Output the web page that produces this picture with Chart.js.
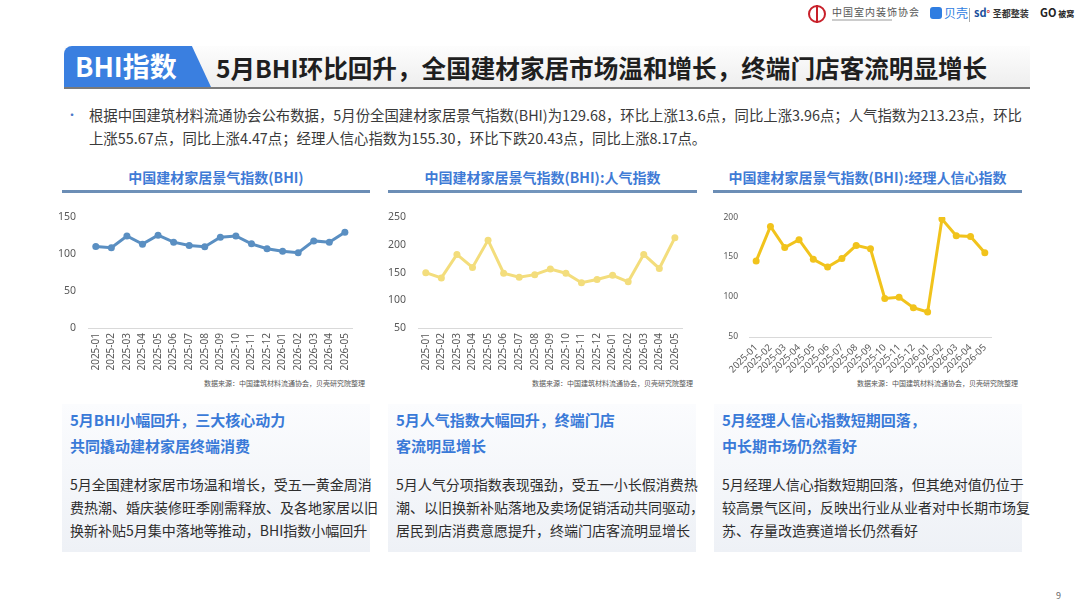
<!DOCTYPE html>
<html>
<head>
<meta charset="utf-8">
<script src="https://cdn.jsdelivr.net/npm/chart.js@4.4.1/dist/chart.umd.min.js"></script>
<style>
  body { margin: 0; width: 1080px; height: 608px; background: #fff; position: relative; overflow: hidden;
         font-family: "Noto Sans CJK SC", "Noto Sans", sans-serif; color: #333; }
  .abs { position: absolute; }
  .titlebar { left: 64px; top: 46px; width: 966px; height: 41px; border-bottom: 2px solid #7a7a7a;
              background: linear-gradient(to bottom, #fdfdfd, #eeeeee); }
  .tab { left: 64px; top: 46px; width: 147px; height: 41px; background: #3a7fe0;
         clip-path: polygon(0 0, 87% 0, 100% 100%, 0 100%); border-top-left-radius: 8px; }
  .tab span { position: absolute; left: 11px; top: 1px; font-size: 27px; font-weight: 700; color: #fff; line-height: 38px; }
  .headline { left: 216px; top: 46px; font-size: 24.6px; font-weight: 700; color: #1f1f1f; line-height: 42px; white-space: nowrap; }
  .intro { left: 89px; top: 104px; font-size: 14.38px; line-height: 22.5px; color: #3a3a3a; white-space: nowrap; }
  .dot { left: 66px; top: 104px; font-size: 12px; line-height: 22px; color: #4a78c8; }
  .ptitle { top: 165px; height: 24px; font-size: 14px; font-weight: 700; color: #3f7bd6; text-align: center; line-height: 24px; white-space: nowrap; }
  .pline { top: 190px; height: 3px; background: linear-gradient(to right, #6b8db5, #7396bd, #6b8db5); }
  .src { top: 378px; font-size: 7px; color: #555; text-align: right; line-height: 10px; white-space: nowrap; }
  .box { top: 404px; height: 148px; background: linear-gradient(to bottom, #fbfcfe, #eef1f6); }
  .box h4 { margin: 0; position: absolute; left: 8px; top: 3px; font-size: 15px; font-weight: 700; color: #3a7ad8; line-height: 25.5px; white-space: nowrap; }
  .box p { margin: 0; position: absolute; left: 8px; top: 69px; font-size: 14px; color: #2e2e2e; line-height: 23.2px; white-space: nowrap; }
  .logo { top: 4px; height: 22px; font-size: 9px; color: #444; white-space: nowrap; line-height: 22px; }
</style>
</head>
<body>

<!-- logos top right -->
<div class="abs" style="left:808px;top:5px;width:18px;height:18px;border-radius:50%;border:2px solid #c8202a;box-sizing:border-box;"></div>
<div class="abs" style="left:816px;top:5px;width:2px;height:18px;background:#c8202a;"></div>
<div class="abs logo" style="left:832px;font-size:10px;color:#555;letter-spacing:1px;top:1px;">中国室内装饰协会</div>
<div class="abs" style="left:832px;top:19px;width:60px;height:2px;background:#ccc;"></div>
<div class="abs" style="left:930px;top:7px;width:12px;height:12px;border-radius:3px;background:#2f7de1;"></div>
<div class="abs logo" style="left:944px;font-size:12px;color:#2f7de1;top:2px;">贝壳</div>
<div class="abs" style="left:969px;top:8px;width:1px;height:14px;background:#aaa;"></div>
<div class="abs logo" style="left:974px;font-size:11px;color:#1b4f9c;top:1px;font-weight:700;">sd<span style="color:#c33;font-size:9px;">°</span> <span style="font-size:9px;color:#333;">圣都整装</span></div>
<div class="abs logo" style="left:1040px;font-size:11px;color:#222;top:1px;font-weight:700;">GO<span style="font-size:8px;"> 被窝</span></div>

<!-- title bar -->
<div class="abs titlebar"></div>
<div class="abs tab"><span>BHI指数</span></div>
<div class="abs headline">5月BHI环比回升，全国建材家居市场温和增长，终端门店客流明显增长</div>

<!-- intro -->
<div class="abs dot">•</div>
<div class="abs intro">根据中国建筑材料流通协会公布数据，5月份全国建材家居景气指数(BHI)为129.68，环比上涨13.6点，同比上涨3.96点；人气指数为213.23点，环比<br>上涨55.67点，同比上涨4.47点；经理人信心指数为155.30，环比下跌20.43点，同比上涨8.17点。</div>

<!-- panel titles -->
<div class="abs ptitle" style="left:62px;width:308px;">中国建材家居景气指数(BHI)</div>
<div class="abs pline" style="left:62px;width:308px;"></div>
<div class="abs ptitle" style="left:388px;width:309px;">中国建材家居景气指数(BHI):人气指数</div>
<div class="abs pline" style="left:388px;width:309px;"></div>
<div class="abs ptitle" style="left:713px;width:309px;">中国建材家居景气指数(BHI):经理人信心指数</div>
<div class="abs pline" style="left:713px;width:309px;"></div>

<!-- charts -->
<div class="abs" style="left:58px;top:199px;width:304px;height:179px;"><canvas id="c1"></canvas></div>
<div class="abs" style="left:388px;top:199px;width:304px;height:179px;"><canvas id="c2"></canvas></div>
<div class="abs" style="left:718px;top:201px;width:280px;height:176px;"><canvas id="c3"></canvas></div>

<div class="abs src" style="left:150px;width:215px;">数据来源：中国建筑材料流通协会，贝壳研究院整理</div>
<div class="abs src" style="left:478px;width:215px;">数据来源：中国建筑材料流通协会，贝壳研究院整理</div>
<div class="abs src" style="left:803px;width:215px;">数据来源：中国建筑材料流通协会，贝壳研究院整理</div>

<!-- text boxes -->
<div class="abs box" style="left:62px;width:308px;">
  <h4>5月BHI小幅回升，三大核心动力<br>共同撬动建材家居终端消费</h4>
  <p>5月全国建材家居市场温和增长，受五一黄金周消<br>费热潮、婚庆装修旺季刚需释放、及各地家居以旧<br>换新补贴5月集中落地等推动，BHI指数小幅回升</p>
</div>
<div class="abs box" style="left:388px;width:308px;">
  <h4>5月人气指数大幅回升，终端门店<br>客流明显增长</h4>
  <p>5月人气分项指数表现强劲，受五一小长假消费热<br>潮、以旧换新补贴落地及卖场促销活动共同驱动，<br>居民到店消费意愿提升，终端门店客流明显增长</p>
</div>
<div class="abs box" style="left:714px;width:308px;">
  <h4>5月经理人信心指数短期回落，<br>中长期市场仍然看好</h4>
  <p>5月经理人信心指数短期回落，但其绝对值仍位于<br>较高景气区间，反映出行业从业者对中长期市场复<br>苏、存量改造赛道增长仍然看好</p>
</div>

<div class="abs" style="left:1056px;top:589px;font-size:9px;color:#666;">9</div>

<script>
const months = ['2025-01', '2025-02', '2025-03', '2025-04', '2025-05', '2025-06', '2025-07', '2025-08', '2025-09',
                '2025-10', '2025-11', '2025-12', '2026-01', '2026-02', '2026-03', '2026-04', '2026-05'];

// 全国建材家居景气指数(BHI)
const bhiValues = [110.5, 108.7, 124.7, 113.6, 125.72, 116.3, 111.9, 110.0, 123.0, 124.7, 114.0, 107.4, 103.9, 102.0, 118.0, 116.08, 129.68];
// 人气指数
const popularityValues = [150.0, 140.5, 183.0, 159.5, 208.76, 149.0, 141.7, 146.4, 156.5, 149.0, 131.7, 137.6, 145.3, 133.4, 183.0, 157.56, 213.23];
// 经理人信心指数
const confidenceValues = [145.0, 188.3, 162.0, 171.7, 147.13, 137.5, 148.3, 164.6, 160.4, 98.3, 99.6, 86.7, 81.3, 197.5, 176.7, 175.73, 155.30];

const bhiTicks = [0, 50, 100, 150];
const popularityTicks = [50, 100, 150, 200, 250];
const confidenceTicks = [50, 100, 150, 200];

function makeChart(id, values, color, ticks, cfg) {
  return new Chart(document.getElementById(id), {
    type: 'line',
    data: {
      labels: months,
      datasets: [{
        data: values,
        borderColor: color,
        backgroundColor: color,
        borderWidth: 3,
        pointRadius: 3.5,
        pointBorderWidth: 0,
        pointBackgroundColor: color,
        tension: 0,
      }],
    },
    options: {
      responsive: true,
      maintainAspectRatio: false,
      animation: false,
      layout: { padding: { top: cfg.top, right: 0, left: 0, bottom: 0 } },
      plugins: { legend: { display: false }, tooltip: { enabled: false } },
      scales: {
        x: {
          offset: true,
          grid: { display: false, drawTicks: false },
          border: { display: true, color: '#d9d9d9', width: 1 },
          ticks: {
            autoSkip: false,
            minRotation: cfg.rot, maxRotation: cfg.rot,
            padding: cfg.xPad,
            color: '#595959',
            font: { size: cfg.xFont, family: 'Noto Sans, sans-serif' },
          },
          afterFit: s => { s.height = cfg.xHeight; },
        },
        y: {
          min: ticks[0],
          max: ticks[ticks.length - 1],
          grid: { display: false, drawTicks: false },
          border: { display: false },
          ticks: {
            stepSize: ticks[1] - ticks[0],
            padding: cfg.yPad,
            color: '#595959',
            font: { size: cfg.yFont, family: 'Noto Sans, sans-serif' },
          },
          afterFit: s => { s.width = cfg.yWidth; },
        },
      },
    },
  });
}

makeChart('c1', bhiValues, '#5a8fc2', bhiTicks, { top: 4, rot: 90, xFont: 10, yFont: 10.5, xPad: 5, yPad: 12, yWidth: 30, xHeight: 50 });
makeChart('c2', popularityValues, '#f3dd7c', popularityTicks, { top: 4, rot: 90, xFont: 10, yFont: 10.5, xPad: 5, yPad: 12, yWidth: 30, xHeight: 50 });
makeChart('c3', confidenceValues, '#f1c31c', confidenceTicks, { top: 5, rot: 45, xFont: 9.5, yFont: 8.5, xPad: 5, yPad: 11, yWidth: 31, xHeight: 40 });
</script>
</body>
</html>
